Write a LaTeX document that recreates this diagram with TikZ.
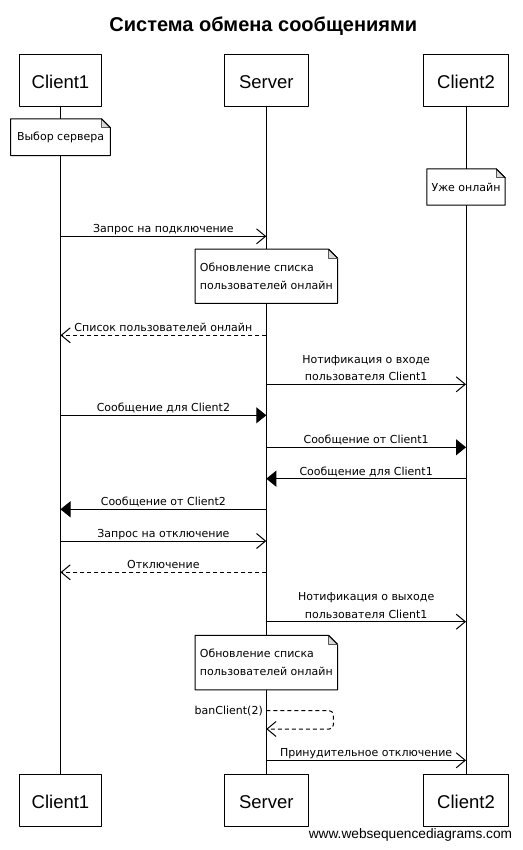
\documentclass[tikz,border=0pt]{standalone}
\usepackage{fontspec}
\setmainfont{Liberation Sans}
\newfontfamily\msgfont{DejaVu Sans}
\usetikzlibrary{arrows.meta}
\tikzset{
  actor/.style={draw, fill=white, line width=1pt, minimum height=52pt, inner sep=0pt,
    text height=17pt, text depth=0pt, font=\fontsize{18.5}{22}\selectfont},
  notebox/.style={fill=white, inner sep=0pt, align=left, font=\msgfont\fontsize{11}{17.7}\selectfont},
  msg/.style={line width=1pt, -{Straight Barb[length=9pt,width=15pt]}},
  sync/.style={line width=1pt, -{Triangle[length=10pt,width=16pt]}},
  reply/.style={msg, dash pattern=on 4pt off 3pt},
  lbl/.style={font=\msgfont\fontsize{11}{17.7}\selectfont, inner sep=0pt, align=center, anchor=base, yshift=3.5pt}
}
% folded corner of a note
\newcommand\notefold[1]{%
  \draw[line width=1pt] ([xshift=-9pt]#1.north east) -- (#1.north west) -- (#1.south west)
    -- (#1.south east) -- ([yshift=-9pt]#1.north east) -- cycle;
  \draw[line width=0.8pt, draw=gray!70!black, fill=gray!30] ([xshift=-9pt]#1.north east)
    -- ([xshift=-9pt,yshift=-9pt]#1.north east) -- ([yshift=-9pt]#1.north east);
  \draw[line width=1pt] ([xshift=-9pt]#1.north east) -- ([yshift=-9pt]#1.north east);
}
\begin{document}
\begin{tikzpicture}[x=1pt, y=-1pt, line join=round]
  \useasboundingbox (0,0) rectangle (522,850);
  \node[anchor=base, font=\bfseries\fontsize{20}{24}\selectfont] (title) at (263.3,31.7) {Система обмена сообщениями};
  % участники и линии жизни
  \foreach \n/\x/\w/\t in {c1/60.5/82/Client1, srv/266.3/84/Server, c2/466/85.4/Client2}{
    \draw[line width=1pt] (\x,106) -- (\x,775);
    \node[actor, minimum width=\w pt] (\n-t) at (\x,80.3) {\t};
    \node[actor, minimum width=\w pt] (\n-b) at (\x,800.3) {\t};
  }
  % заметки
  \node[notebox, minimum width=99.4pt, minimum height=36.3pt] (n1) at (c1-t |- 0,137.2) {Выбор сервера};
  \notefold{n1}
  \node[notebox, minimum width=78pt, minimum height=36pt] (n2) at (c2-t |- 0,187) {Уже онлайн};
  \notefold{n2}
  \draw[msg] (c1-t |- 0,236.3) -- (srv-t |- 0,236.3) node[lbl, midway] {Запрос на подключение};
  \node[notebox, minimum width=142pt, minimum height=53.7pt] (n3) at (srv-t |- 0,276.2) {Обновление списка\\пользователей онлайн};
  \notefold{n3}
  \draw[reply] (srv-t |- 0,335.3) -- (c1-t |- 0,335.3) node[lbl, midway] {Список пользователей онлайн};
  \draw[msg] (srv-t |- 0,384.3) -- (c2-t |- 0,384.3) node[lbl, midway] {Нотификация о входе\\пользователя Client1};
  \draw[sync] (c1-t |- 0,415.3) -- (srv-t |- 0,415.3) node[lbl, midway] {Сообщение для Client2};
  \draw[sync] (srv-t |- 0,447.3) -- (c2-t |- 0,447.3) node[lbl, midway] {Сообщение от Client1};
  \draw[sync] (c2-t |- 0,478.7) -- (srv-t |- 0,478.7) node[lbl, midway] {Сообщение для Client1};
  \draw[sync] (srv-t |- 0,509.3) -- (c1-t |- 0,509.3) node[lbl, midway] {Сообщение от Client2};
  \draw[msg] (c1-t |- 0,541) -- (srv-t |- 0,541) node[lbl, midway] {Запрос на отключение};
  \draw[reply] (srv-t |- 0,572.3) -- (c1-t |- 0,572.3) node[lbl, midway] {Отключение};
  \draw[msg] (srv-t |- 0,621.7) -- (c2-t |- 0,621.7) node[lbl, midway] {Нотификация о выходе\\пользователя Client1};
  \node[notebox, minimum width=142pt, minimum height=54.2pt] (n4) at (srv-t |- 0,662.6) {Обновление списка\\пользователей онлайн};
  \notefold{n4}
  \draw[reply, rounded corners=4pt] (srv-t |- 0,710.7) node[lbl, anchor=east, yshift=-3.5pt, xshift=-3pt] {banClient(2)}
    -- ++(67,0) -- ++(0,18.3) -- (srv-t |- 0,729);
  \draw[msg] (srv-t |- 0,760.3) -- (c2-t |- 0,760.3) node[lbl, midway] {Принудительное отключение};
  \node[anchor=base east, inner sep=0pt, font=\fontsize{13.7}{16}\selectfont] (site) at (512.3,838.5) {www.websequencediagrams.com};
\end{tikzpicture}
\end{document}
